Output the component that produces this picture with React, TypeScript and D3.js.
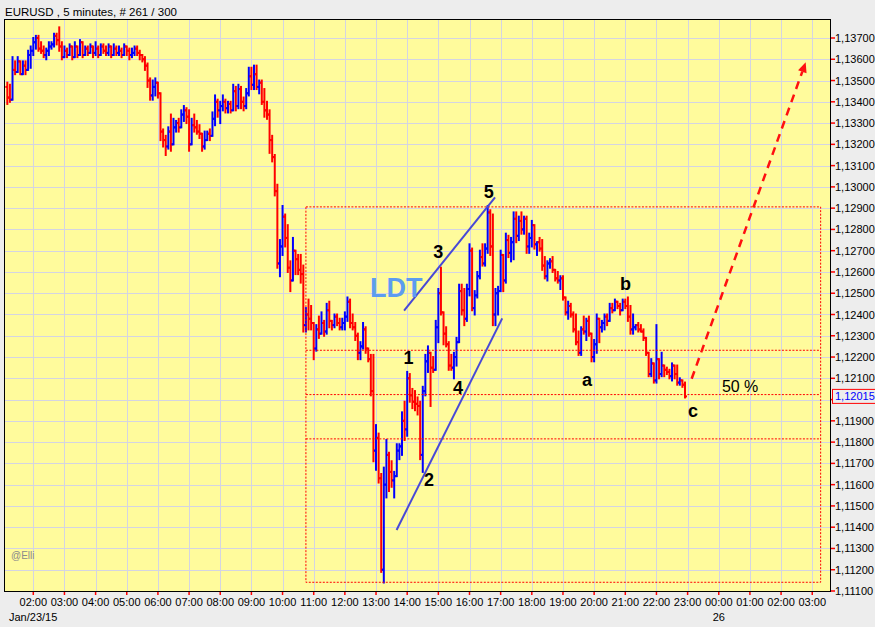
import React from 'react'
import * as d3 from 'd3'

// EURUSD 5-minute bars, Jan 23 2015, 01:10 .. 22:55
// prices are in pips above 1.1100 (so 247 -> 1.1347)
const firstOpen = 247

const highs = [
  249, 248, 261, 259, 261, 258, 259, 259, 264, 266, // 01
  270, 271, 271, 268, 266, 265, 268, 268, 272, 272, 275, 268, // 02
  266, 265, 267, 266, 268, 266, 269, 268, 266, 266, 267, 266, // 03
  268, 266, 267, 267, 266, 267, 266, 267, 266, 266, 265, 267, // 04
  266, 265, 265, 266, 266, 264, 262, 261, 258, 251, 250, 251, // 05
  247, 244, 227, 224, 228, 234, 232, 231, 232, 236, 238, 237, // 06
  236, 232, 234, 231, 229, 225, 226, 226, 227, 235, 243, 241, // 07
  240, 243, 241, 240, 240, 248, 247, 248, 247, 242, 246, 256, // 08
  256, 257, 257, 250, 250, 246, 240, 236, 224, 215, 201, 175, // 09
  191, 187, 182, 165, 176, 170, 168, 168, 163, 143, 147, 144, // 10
  136, 135, 139, 141, 137, 145, 146, 137, 140, 140, 138, 138, // 11
  141, 148, 147, 140, 136, 131, 127, 136, 134, 123, 121, 121, // 12
  88, 84, 65, 68, 81, 75, 71, 66, 79, 79, 94, 99, // 13
  113, 112, 105, 104, 101, 99, 106, 121, 125, 121, 120, 137, // 14
  152, 162, 141, 134, 127, 121, 122, 129, 154, 154, 152, 154, // 15
  173, 171, 151, 160, 170, 173, 173, 191, 189, 187, 152, 153, // 16
  170, 168, 178, 177, 176, 188, 188, 186, 188, 186, 186, 178, // 17
  184, 178, 174, 176, 175, 167, 165, 166, 167, 161, 160, 158, // 18
  158, 147, 146, 145, 141, 140, 132, 134, 139, 138, 139, 131, // 19
  128, 140, 138, 137, 140, 140, 145, 145, 147, 146, 145, 147, // 20
  147, 148, 144, 140, 135, 136, 135, 133, 128, 122, 119, 114, // 21
  135, 119, 122, 116, 115, 114, 117, 116, 116, 110, 109, 108, // 22
]

const lows = [
  239, 240, 241, 253, 255, 253, 254, 253, 256, 256,
  262, 265, 264, 263, 261, 260, 262, 265, 266, 267, 264, 260,
  261, 261, 262, 260, 261, 261, 262, 261, 262, 262, 263, 261,
  262, 261, 262, 263, 262, 262, 261, 262, 262, 262, 261, 262,
  262, 260, 261, 262, 262, 260, 259, 255, 247, 241, 241, 243,
  242, 222, 219, 215, 218, 217, 222, 226, 226, 229, 231, 230,
  217, 220, 226, 225, 223, 217, 218, 222, 222, 224, 229, 233,
  230, 236, 235, 235, 235, 236, 236, 237, 237, 236, 237, 243,
  246, 246, 246, 244, 239, 233, 232, 216, 212, 196, 162, 158,
  168, 172, 160, 151, 158, 159, 159, 155, 132, 132, 133, 133,
  119, 123, 129, 132, 130, 131, 134, 133, 134, 135, 133, 133,
  133, 137, 134, 133, 128, 119, 119, 124, 122, 118, 102, 71,
  67, 61, 19, 14, 54, 57, 59, 54, 66, 72, 74, 81,
  83, 99, 96, 95, 93, 72, 66, 102, 113, 97, 113, 114,
  127, 140, 126, 125, 114, 114, 110, 116, 127, 140, 135, 137,
  149, 142, 140, 148, 157, 163, 163, 169, 168, 135, 135, 140,
  151, 151, 155, 167, 165, 166, 174, 175, 178, 178, 169, 169,
  172, 171, 168, 170, 161, 157, 156, 162, 160, 156, 155, 152,
  147, 140, 138, 139, 132, 126, 121, 121, 131, 128, 130, 118,
  118, 122, 127, 132, 133, 135, 137, 141, 142, 143, 140, 142,
  143, 137, 131, 131, 133, 132, 132, 128, 121, 111, 111, 108,
  108, 110, 111, 111, 112, 110, 109, 110, 107, 107, 106, 101,
]

const closes = [
  242, 241, 255, 254, 259, 253, 257, 255, 262, 264,
  268, 270, 265, 264, 262, 264, 266, 267, 271, 269, 266, 261,
  264, 262, 266, 261, 266, 262, 268, 262, 265, 263, 266, 263,
  265, 262, 266, 264, 263, 266, 262, 265, 263, 264, 262, 266,
  264, 262, 263, 265, 263, 262, 260, 257, 250, 243, 247, 249,
  244, 226, 222, 219, 226, 220, 228, 230, 228, 234, 236, 233,
  220, 229, 228, 226, 225, 219, 222, 225, 224, 232, 240, 236,
  238, 240, 237, 239, 236, 245, 238, 246, 240, 238, 244, 252,
  248, 253, 247, 249, 240, 236, 234, 222, 214, 198, 164, 172,
  186, 176, 162, 156, 170, 166, 161, 159, 135, 140, 138, 136,
  124, 133, 131, 136, 132, 142, 137, 135, 139, 136, 134, 136,
  139, 146, 136, 134, 130, 122, 125, 133, 124, 119, 104, 76,
  82, 63, 20, 60, 74, 66, 62, 64, 76, 78, 90, 86,
  110, 102, 99, 98, 97, 74, 104, 118, 122, 115, 114, 134,
  150, 141, 131, 126, 116, 115, 120, 127, 151, 142, 138, 152,
  170, 143, 149, 158, 167, 164, 171, 188, 172, 140, 150, 151,
  168, 156, 175, 169, 174, 185, 177, 184, 180, 185, 172, 176,
  182, 173, 174, 171, 163, 158, 164, 165, 161, 157, 156, 157,
  148, 141, 144, 140, 133, 127, 122, 133, 132, 137, 131, 120,
  126, 138, 134, 136, 139, 137, 143, 142, 146, 144, 142, 146,
  144, 139, 133, 134, 135, 133, 132, 129, 122, 112, 117, 109,
  119, 112, 116, 114, 113, 111, 116, 112, 108, 109, 107, 101.5,
]

const firstBarHour = 1 + 10 / 60
const barStep = 5 / 60
const hourTicks = d3.range(2, 28)
const priceTicks = d3.range(1111, 1138).map((v) => v / 1000)

// fibonacci retracement of the 09:55 high .. 13:15 low
const fibLow = 1.11141
const fibHigh = 1.12906
const fibRatios = [0.382, 0.5, 0.618]
const fibFrom = 10.75
const fibTo = 27.27

// ending diagonal lines (hour, price)
const wedgeUpper: [number, number][] = [[13.9, 1.12418], [16.82, 1.12951]]
const wedgeLower: [number, number][] = [[13.66, 1.11387], [17.05, 1.12382]]
const arrowLine: [number, number][] = [[23.13, 1.12098], [26.79, 1.13586]]

const waveLabels = [
  { text: '1', t: 14.04, p: 1.12165 },
  { text: '2', t: 14.7, p: 1.11596 },
  { text: '3', t: 15.0, p: 1.12664 },
  { text: '4', t: 15.63, p: 1.12024 },
  { text: '5', t: 16.62, p: 1.12946 },
  { text: 'a', t: 19.77, p: 1.12065 },
  { text: 'b', t: 21.01, p: 1.12515 },
  { text: 'c', t: 23.17, p: 1.11916 },
]

const W = 875
const H = 627
const M = { left: 4, right: 830, top: 19, bottom: 591 }
const FONT = 'Liberation Sans, Arial, sans-serif'
const UP = '#0000ff'
const DOWN = '#ff0000'

const pip = (v: number) => 1.11 + v / 10000

export default function App() {
  const x = d3.scaleLinear().domain([1.06, 27.57]).range([M.left, M.right])
  const y = d3.scaleLinear().domain([1.111, 1.137]).range([M.bottom, 38])
  const fmtPrice = (v: number) => d3.format('.5f')(v).replace('.', ',')
  const fmtHour = (h: number) => String(h % 24).padStart(2, '0') + ':00'

  const bars = closes.map((c, i) => {
    const o = i === 0 ? firstOpen : closes[i - 1]
    return {
      t: firstBarHour + i * barStep,
      o: pip(o),
      c: pip(c),
      h: pip(Math.max(highs[i], o, c)),
      l: pip(Math.min(lows[i], o, c)),
    }
  })
  const last = bars[bars.length - 1].c
  const lastY = y(last)

  const line = d3.line<[number, number]>().x((d) => x(d[0])).y((d) => y(d[1]))

  // arrow geometry
  const [a0, a1] = arrowLine
  const ax0 = x(a0[0]), ay0 = y(a0[1]), ax1 = x(a1[0]), ay1 = y(a1[1])
  const ang = Math.atan2(ay1 - ay0, ax1 - ax0)
  const headLen = 10
  const headW = 4.5
  const bx = ax1 - headLen * Math.cos(ang)
  const by = ay1 - headLen * Math.sin(ang)
  const nx = -Math.sin(ang), ny = Math.cos(ang)
  const head = `M${ax1},${ay1}L${bx + nx * headW},${by + ny * headW}L${bx - nx * headW},${by - ny * headW}Z`

  return (
    <svg width={W} height={H} style={{ position: 'absolute', left: 0, top: 0 }} fontFamily={FONT}>
      <rect width={W} height={H} fill="#ededed" />
      <text x={5} y={16} fontSize={11.5} fill="#000">EURUSD , 5 minutes, # 261 / 300</text>

      <rect x={M.left} y={M.top} width={M.right - M.left} height={M.bottom - M.top} fill="#fffb9c" />

      <g stroke="#d4d4e2" strokeWidth={1} shapeRendering="crispEdges">
        {priceTicks.map((p) => (
          <line key={p} x1={M.left} x2={M.right} y1={Math.round(y(p)) + 0.5} y2={Math.round(y(p)) + 0.5} />
        ))}
        {hourTicks.map((h) => (
          <line key={h} x1={Math.round(x(h)) + 0.5} x2={Math.round(x(h)) + 0.5} y1={M.top} y2={M.bottom} />
        ))}
      </g>

      <g>
        {bars.map((b, i) => {
          const bxp = x(b.t)
          const col = b.c >= b.o ? UP : DOWN
          return (
            <g key={i} stroke={col} strokeWidth={2}>
              <line x1={bxp} x2={bxp} y1={y(b.h) - 1} y2={y(b.l) + 1} />
              <line x1={bxp - 2} x2={bxp} y1={y(b.o)} y2={y(b.o)} />
              <line x1={bxp} x2={bxp + 2} y1={y(b.c)} y2={y(b.c)} />
            </g>
          )
        })}
      </g>

      <g fill="none" stroke="#ff0000" strokeWidth={1} strokeDasharray="2 1.5">
        <rect x={x(fibFrom)} y={y(fibHigh)} width={x(fibTo) - x(fibFrom)} height={y(fibLow) - y(fibHigh)} />
        {fibRatios.map((r) => {
          const yy = y(fibLow + (fibHigh - fibLow) * r)
          return <line key={r} x1={x(fibFrom)} x2={x(fibTo)} y1={yy} y2={yy} />
        })}
      </g>

      <g stroke="#4848d6" strokeWidth={2} fill="none">
        <path d={line(wedgeUpper) || ''} />
        <path d={line(wedgeLower) || ''} />
      </g>

      <line x1={ax0} y1={ay0} x2={bx} y2={by} stroke="#ff1010" strokeWidth={2.5} strokeDasharray="8 6" />
      <path d={head} fill="#ff1010" />

      <text x={x(12.806)} y={y(1.12482)} fontSize={27} fontWeight="bold" fill="#5d9cf0">LDT</text>
      {waveLabels.map((l) => (
        <text key={l.text} x={x(l.t)} y={y(l.p)} textAnchor="middle" fontSize={18} fontWeight="bold" fill="#000">
          {l.text}
        </text>
      ))}
      <text x={x(24.1)} y={y(1.12034)} fontSize={16} fill="#000">50 %</text>
      <text x={11} y={559} fontSize={10} fill="#8a8a8a">@Elli</text>

      <rect x={M.left + 0.5} y={M.top + 0.5} width={M.right - M.left} height={M.bottom - M.top} fill="none" stroke="#000" strokeWidth={1} />

      <g fontSize={11} fill="#000">
        {priceTicks.map((p) => (
          <g key={p}>
            <line x1={M.right + 1} x2={M.right + 5} y1={y(p)} y2={y(p)} stroke="#ff0000" strokeWidth={1.5} />
            {Math.abs(y(p) - lastY) > 10 && <text x={M.right + 5} y={y(p) + 4}>{fmtPrice(p)}</text>}
          </g>
        ))}
        {hourTicks.map((h) => (
          <g key={h}>
            <line x1={x(h)} x2={x(h)} y1={M.bottom + 1} y2={M.bottom + 4} stroke="#ff0000" strokeWidth={1.5} />
            <text x={x(h)} y={606} textAnchor="middle">{fmtHour(h)}</text>
          </g>
        ))}
        <text x={9} y={621}>Jan/23/15</text>
        <text x={x(24)} y={621} textAnchor="middle">26</text>
      </g>

      <rect x={832.5} y={lastY - 7} width={45} height={14} fill="#ededed" stroke="#ff0000" strokeWidth={1} />
      <text x={835} y={lastY + 4} fontSize={11} fill="#0000ff">{fmtPrice(last)}</text>
    </svg>
  )
}
